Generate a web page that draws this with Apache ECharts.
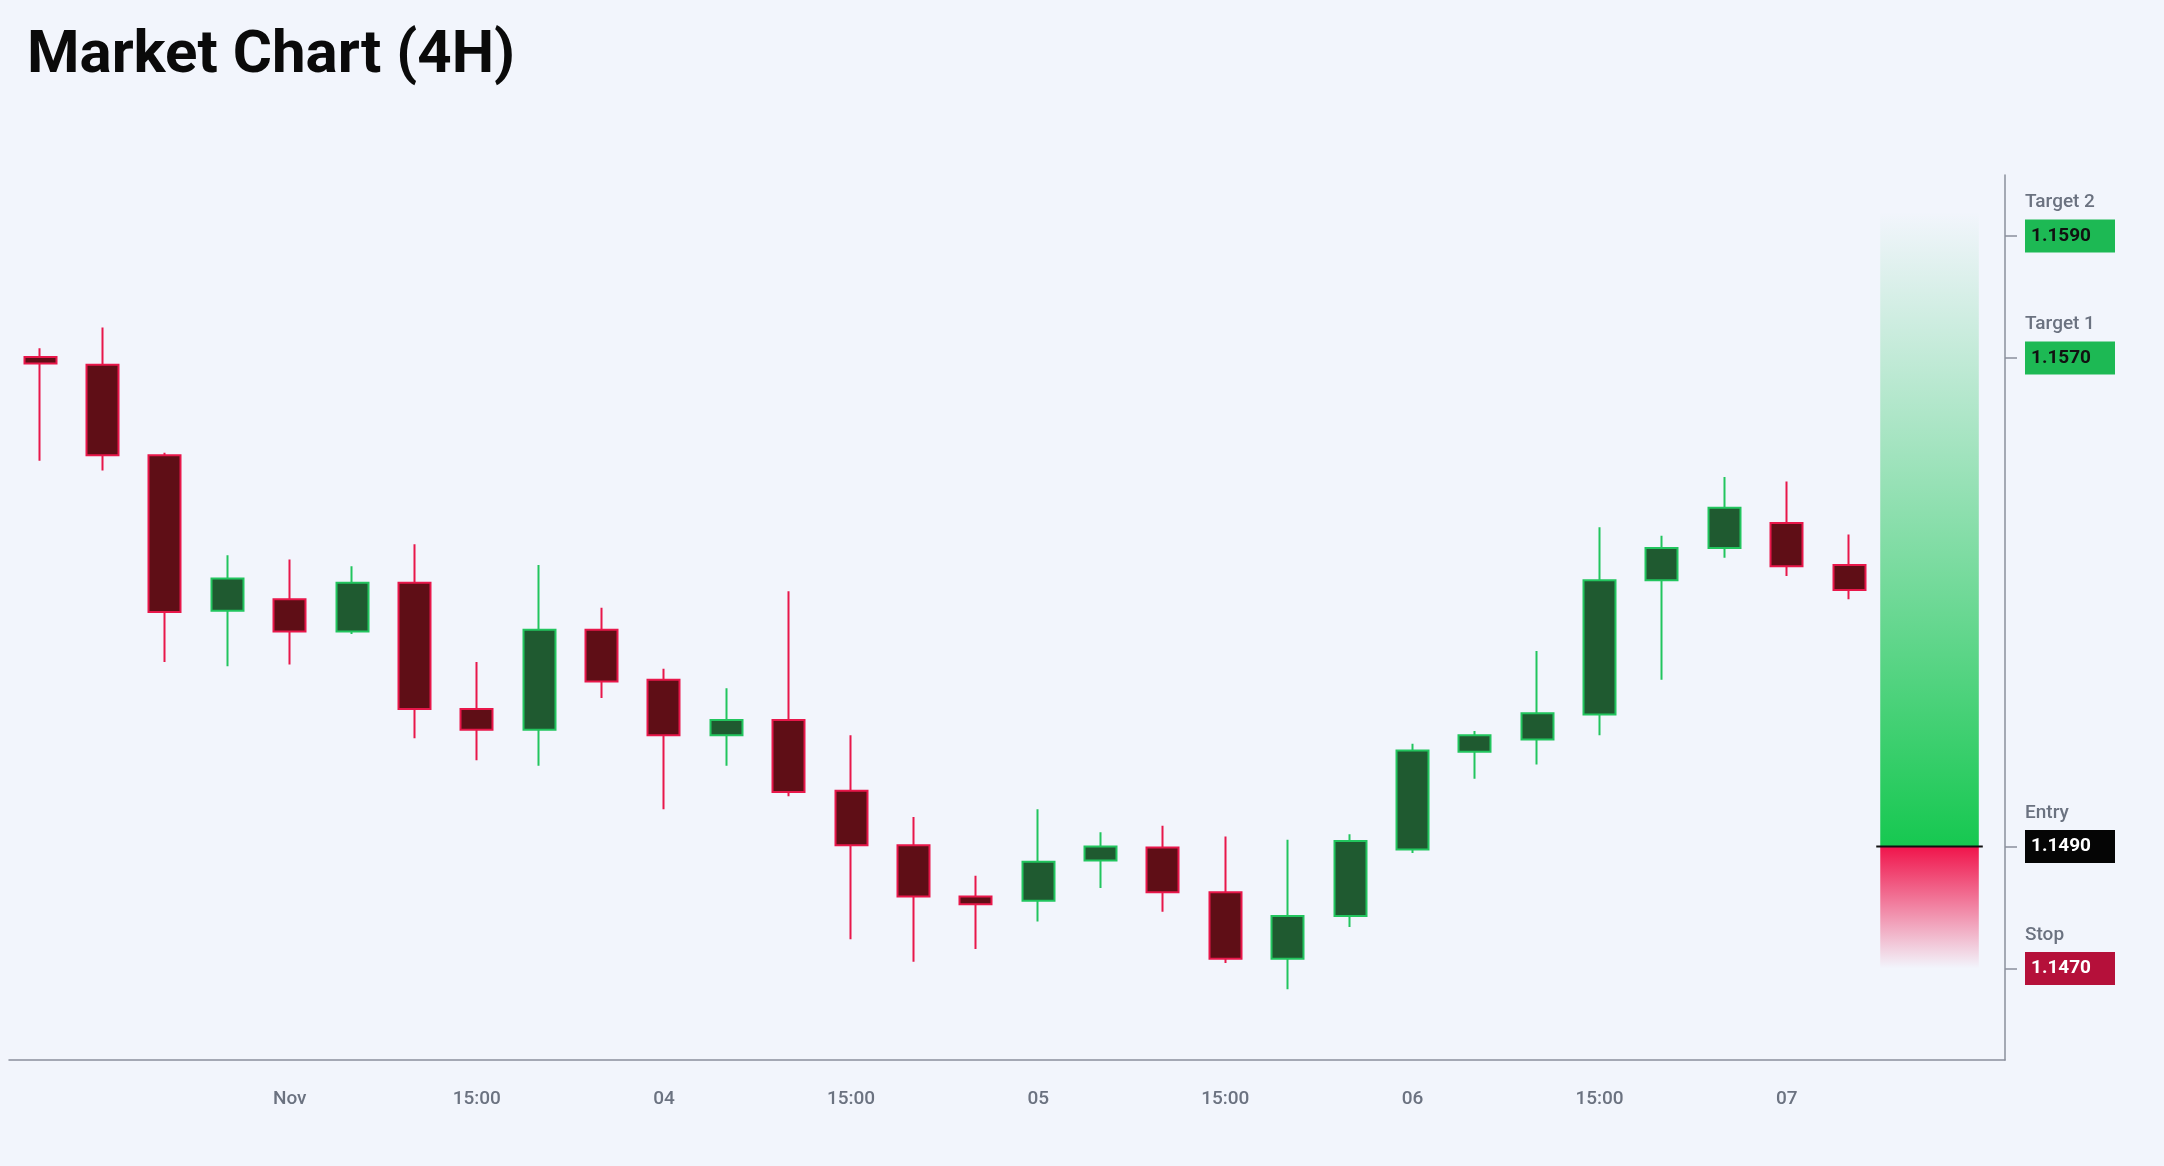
<!DOCTYPE html>
<html><head><meta charset="utf-8">
<script src="https://cdn.jsdelivr.net/npm/echarts@6/dist/echarts.min.js"></script>
<style>html,body{margin:0;background:#f2f5fc}#c{width:2164px;height:1166px}</style>
</head><body><div id="c"></div>
<script>
const categories = ['c0','c1','c2','c3','c4','c5','c6','c7','c8','c9','c10','c11','c12','c13','c14','c15','c16','c17','c18','c19','c20','c21','c22','c23','c24','c25','c26','c27','c28','c29','c30','c31'];
const tickLabels = {4:'Nov',7:'15:00',10:'04',13:'15:00',16:'05',19:'15:00',22:'06',25:'15:00',28:'07'};
// [open, close, low, high]
const ohlc = [
[1.15702,1.15691,1.15532,1.15716],
[1.15689,1.15541,1.15516,1.15750],
[1.15541,1.15284,1.15202,1.15545],
[1.15286,1.15339,1.15195,1.15377],
[1.15305,1.15252,1.15198,1.15370],
[1.15252,1.15332,1.15248,1.15359],
[1.15332,1.15125,1.15077,1.15395],
[1.15125,1.15091,1.15041,1.15202],
[1.15091,1.15255,1.15032,1.15361],
[1.15255,1.15170,1.15143,1.15291],
[1.15173,1.15082,1.14961,1.15191],
[1.15082,1.15107,1.15032,1.15159],
[1.15107,1.14989,1.14982,1.15318],
[1.14991,1.14902,1.14748,1.15082],
[1.14902,1.14818,1.14711,1.14948],
[1.14818,1.14805,1.14732,1.14852],
[1.14811,1.14875,1.14777,1.14961],
[1.14877,1.14900,1.14832,1.14923],
[1.14898,1.14825,1.14793,1.14934],
[1.14825,1.14716,1.14709,1.14916],
[1.14716,1.14786,1.14666,1.14911],
[1.14786,1.14909,1.14768,1.14920],
[1.14895,1.15057,1.14889,1.15068],
[1.15055,1.15082,1.15011,1.15089],
[1.15075,1.15118,1.15034,1.15220],
[1.15116,1.15336,1.15082,1.15423],
[1.15336,1.15389,1.15173,1.15409],
[1.15389,1.15455,1.15373,1.15505],
[1.15430,1.15359,1.15343,1.15498],
[1.15361,1.15320,1.15305,1.15411]
];
const levels = [
  {name:'Target 2', value:1.1590, color:'#1db954', text:'#111'},
  {name:'Target 1', value:1.1570, color:'#1db954', text:'#111'},
  {name:'Entry', value:1.1490, color:'#050505', text:'#fff'},
  {name:'Stop', value:1.1470, color:'#b5103a', text:'#fff'}
];
const entry = 1.1490, target = 1.1594, stop = 1.1470;

const chart = echarts.init(document.getElementById('c'));
const lvlMap = {};
levels.forEach(l => lvlMap[l.value.toFixed(4)] = l);
const rich = {
  n:{color:'#6b7280',fontSize:19,fontWeight:500,lineHeight:34,align:'left',fontFamily:'Roboto'},
  s:{lineHeight:34}
};
levels.forEach((l,i)=>{
  rich['b'+i] = {backgroundColor:l.color,color:l.text,fontSize:19,fontWeight:'bold',width:78,height:33,lineHeight:33,padding:[0,6],align:'left',fontFamily:'Roboto'};
});
chart.setOption({
  backgroundColor:'#f2f5fc',
  animation:false,
  title:{text:'Market Chart (4H)',left:22,top:22,textStyle:{fontSize:60,fontWeight:'bold',color:'#0a0a0a',fontFamily:'Roboto'}},
  grid:{left:9,right:159,top:175,bottom:106},
  xAxis:{type:'category',data:categories,boundaryGap:true,
    axisLine:{lineStyle:{color:'#8a8f9c',width:1.5}},
    axisTick:{interval:(i)=>tickLabels[i]!==undefined,alignWithLabel:true,length:14,lineStyle:{color:'#8a8f9c',width:1.5}},
    axisLabel:{interval:(i)=>tickLabels[i]!==undefined,formatter:(v,i)=>tickLabels[i]||'',color:'#6b7280',fontSize:19,fontWeight:500,margin:30,fontFamily:'Roboto'},
    splitLine:{show:false}},
  yAxis:{type:'value',position:'right',min:1.1455,max:1.1600,scale:true,
    axisLine:{show:true,lineStyle:{color:'#8a8f9c',width:1.5}},
    axisTick:{show:true,customValues:levels.map(l=>l.value),length:12,lineStyle:{color:'#8a8f9c',width:1.5}},
    splitLine:{show:false},
    axisLabel:{customValues:levels.map(l=>l.value),margin:20,rich:rich,
      formatter:(v)=>{const k=(+v).toFixed(4);const i=levels.findIndex(l=>l.value.toFixed(4)===k);if(i<0)return '';return '{n|'+levels[i].name+'}\n{b'+i+'|'+levels[i].value.toFixed(4)+'}\n{s|}';}}
  },
  series:[{type:'candlestick',data:ohlc,barWidth:'52%',
    itemStyle:{color:'#1f5a30',color0:'#5f0e16',borderColor:'#22c55e',borderColor0:'#e8174a',borderWidth:2,borderColor0Width:2}}]
});

function drawBoxes(){
  const p29 = chart.convertToPixel({gridIndex:0},['c29',entry])[0];
  const p28 = chart.convertToPixel({gridIndex:0},['c28',entry])[0];
  const b = p29-p28;
  const x1 = p29+0.5*b, x2 = p29+2.08*b;
  const yE = chart.convertToPixel({gridIndex:0},['c29',entry])[1];
  const yT = chart.convertToPixel({gridIndex:0},['c29',target])[1];
  const yS = chart.convertToPixel({gridIndex:0},['c29',stop])[1];
  chart.setOption({graphic:[
    {type:'rect',shape:{x:x1,y:yT,width:x2-x1,height:yE-yT},
     style:{fill:new echarts.graphic.LinearGradient(0,0,0,1,[{offset:0,color:'rgba(34,197,94,0)'},{offset:1,color:'rgba(22,200,80,1)'}])},z:10},
    {type:'rect',shape:{x:x1,y:yE,width:x2-x1,height:yS-yE},
     style:{fill:new echarts.graphic.LinearGradient(0,0,0,1,[{offset:0,color:'rgba(240,20,75,1)'},{offset:1,color:'rgba(240,20,75,0)'}])},z:10},
    {type:'line',shape:{x1:x1-4,y1:yE,x2:x2+4,y2:yE},style:{stroke:'#111',lineWidth:2},z:11}
  ]});
}
drawBoxes();
</script></body></html>
